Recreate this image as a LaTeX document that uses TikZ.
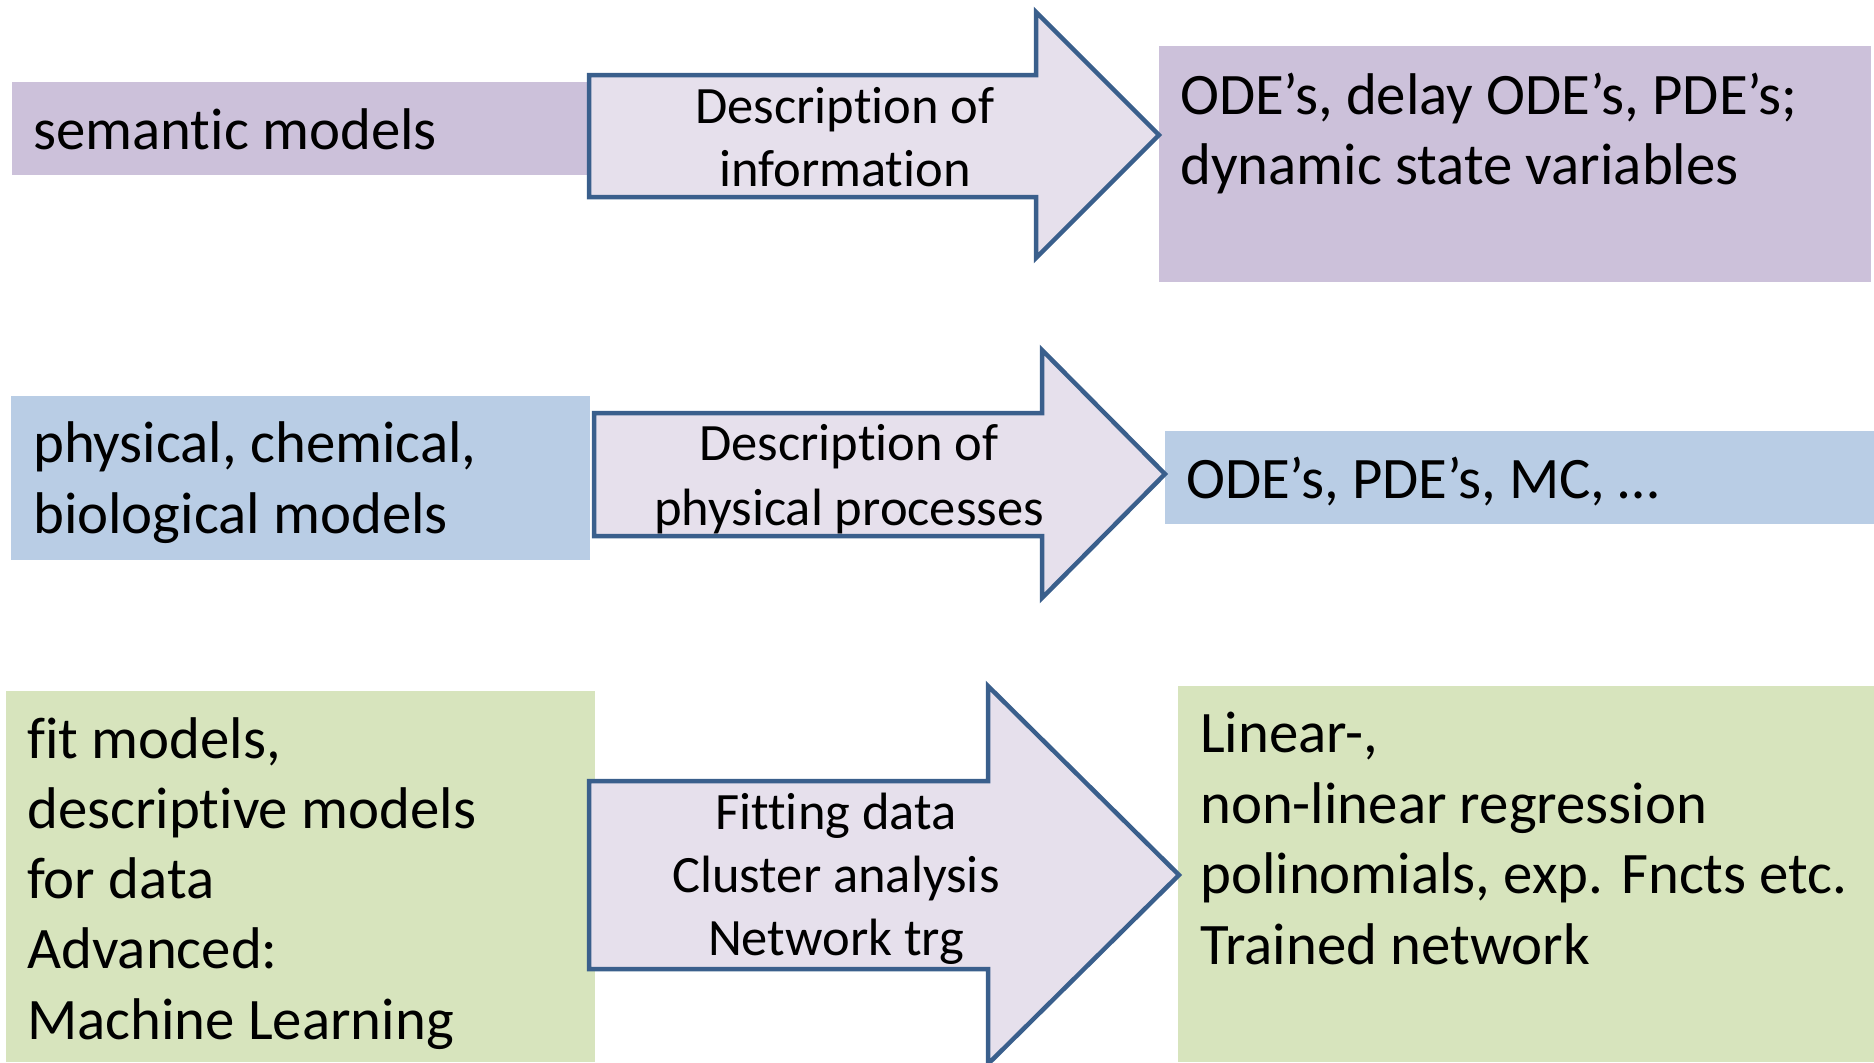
\documentclass[tikz,border=0pt]{standalone}
\usepackage{fontspec}
\setmainfont{Carlito}[Ligatures={NoCommon}]
\definecolor{boxpurple}{HTML}{CCC1DA}
\definecolor{boxblue}{HTML}{B9CDE5}
\definecolor{boxgreen}{HTML}{D7E4BD}
\definecolor{arrowfill}{HTML}{E6E0EC}
\definecolor{arrowline}{HTML}{3A5F8C}
\tikzset{
  panel/.style={rectangle, inner sep=0pt, outer sep=0pt, anchor=north west},
  blockarrow/.style={fill=arrowfill, draw=arrowline, line width=4.5bp, line join=miter},
  bigtext/.style={inner sep=0pt, anchor=base west, font=\fontsize{58.8bp}{70bp}\selectfont},
  arrowtext/.style={inner sep=0pt, anchor=base, font=\fontsize{52.5bp}{63bp}\selectfont}
}
\begin{document}
\begin{tikzpicture}[x=1bp,y=-1bp]
\useasboundingbox (0,0) rectangle (1874,1062);

% coloured panels
\node[panel, fill=boxpurple, minimum width=576bp, minimum height=93bp] (semL) at (12,82) {};
\node[panel, fill=boxpurple, minimum width=712bp, minimum height=236bp] (semR) at (1159,46) {};
\node[panel, fill=boxblue, minimum width=579bp, minimum height=164bp] (phyL) at (11,396) {};
\node[panel, fill=boxblue, minimum width=709bp, minimum height=93bp] (phyR) at (1165,431) {};
\node[panel, fill=boxgreen, minimum width=589bp, minimum height=371bp] (fitL) at (6,691) {};
\node[panel, fill=boxgreen, minimum width=696bp, minimum height=376bp] (fitR) at (1178,686) {};

% block arrows
\draw[blockarrow] (589,75) -- (1036,75) -- (1036,12) -- (1159,135) -- (1036,258) -- (1036,197) -- (589,197) -- cycle;
\draw[blockarrow] (594,413) -- (1042,413) -- (1042,350) -- (1165,474) -- (1042,598) -- (1042,536) -- (594,536) -- cycle;
\draw[blockarrow] (589,781) -- (988,781) -- (988,686) -- (1179,875) -- (988,1064) -- (988,969) -- (589,969) -- cycle;

% row 1
\node[bigtext] (t1a) at (33,149) {semantic models};
\node[arrowtext] (a1a) at (845,123) {Description of};
\node[arrowtext] (a1b) at (845,186) {information};
\node[bigtext] (r1a) at (1180,114) {ODE’s, delay ODE’s, PDE’s;};
\node[bigtext] (r1b) at (1180,184) {dynamic state variables};

% row 2
\node[bigtext] (t2a) at (33,462) {physical, chemical,};
\node[bigtext] (t2b) at (33,533) {biological models};
\node[arrowtext] (a2a) at (849,460) {Description of};
\node[arrowtext] (a2b) at (849,525) {physical processes};
\node[bigtext] (r2a) at (1186,498) {ODE’s, PDE’s, MC, …};

% row 3
\node[bigtext] (t3a) at (27,758) {fit models,};
\node[bigtext] (t3b) at (27,828) {descriptive models};
\node[bigtext] (t3c) at (27,898) {for data};
\node[bigtext] (t3d) at (27,968) {Advanced:};
\node[bigtext] (t3e) at (27,1039) {Machine Learning};
\node[arrowtext] (a3a) at (836,829) {Fitting data};
\node[arrowtext] (a3b) at (836,892) {Cluster analysis};
\node[arrowtext] (a3c) at (836,955) {Network trg};
\node[bigtext] (r3a) at (1200,752) {Linear-,};
\node[bigtext] (r3b) at (1200,823) {non-linear regression};
\node[bigtext] (r3c) at (1200,893) {polinomials, exp. Fncts etc.};
\node[bigtext] (r3d) at (1200,964) {Trained network};
\end{tikzpicture}
\end{document}
